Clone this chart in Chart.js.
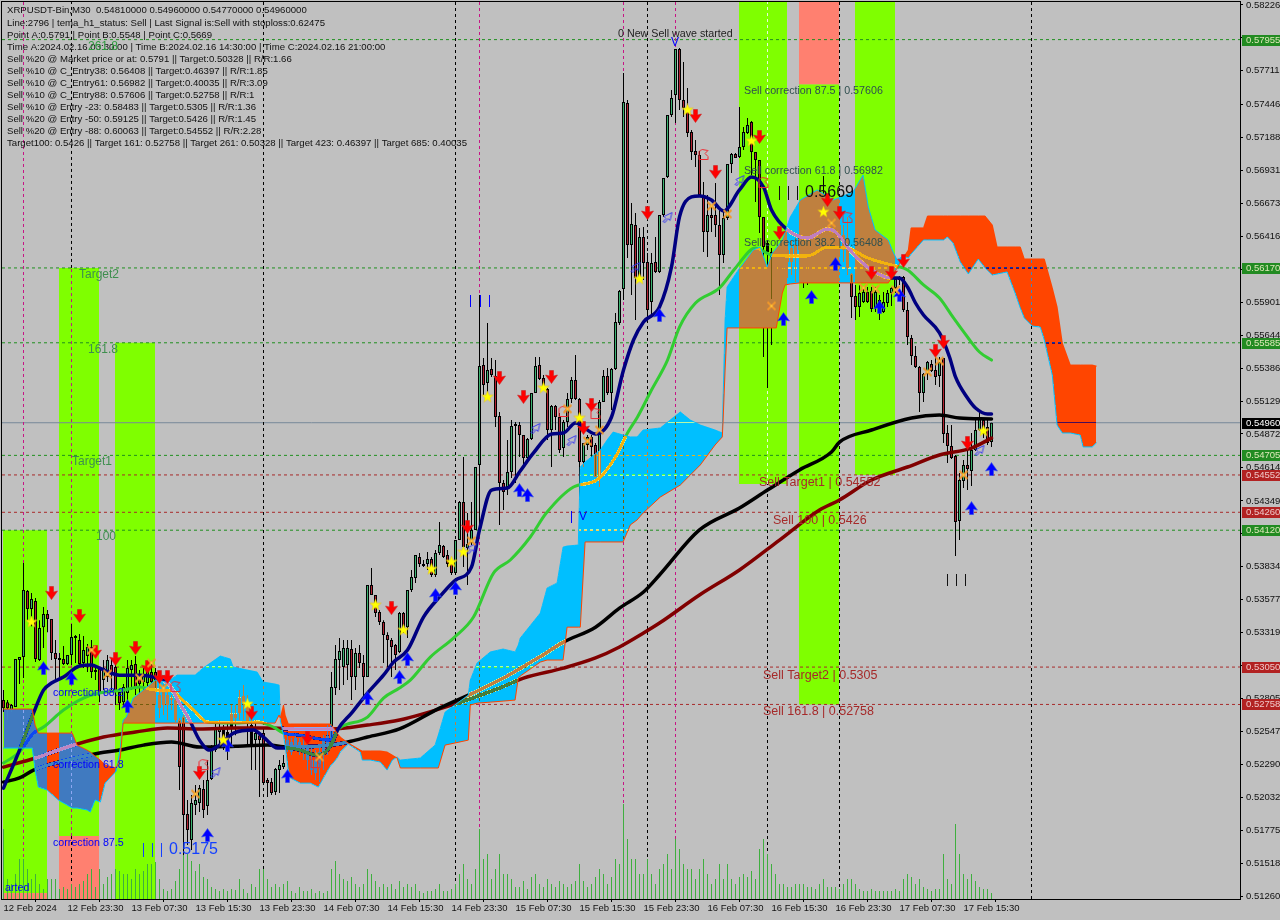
<!DOCTYPE html>
<html><head><meta charset="utf-8"><title>XRPUSDT M30</title>
<script src="https://cdn.jsdelivr.net/npm/chart.js@4"></script>
<style>html,body{margin:0;padding:0;background:#C0C0C0;overflow:hidden}canvas{display:block}</style></head>
<body><canvas id="c" width="1280" height="920"></canvas>
<script>
// All prices are in units of 0.00001 USDT
const opens=[52792,52776,52714,52737,53105,53128,53644,53504,53566,53105,53362,53465,53425,53160,53121,53113,53074,53144,53293,53261,53082,53136,53207,53011,53035,52948,52972,53066,53050,52855,52776,52847,53027,53074,52972,52933,52925,53011,53011,52831,52894,52831,52792,52792,52636,52659,51901,51698,51972,51987,52096,51964,52175,52401,52542,52558,52542,52581,52651,52690,52823,52753,52597,52479,52518,52534,52167,52151,52073,52245,52268,52479,52386,52440,52464,52440,52417,52323,52222,52261,52362,52440,52495,52886,53105,53050,53066,53191,52972,53160,53082,52972,53691,53613,53480,53402,53300,53261,53222,53168,53472,53362,53652,53746,53910,53856,53856,53895,53770,53942,53996,53926,53863,53785,54043,54340,53980,54020,54122,54630,55411,55271,55380,55325,55013,54489,54458,54575,54935,54942,54864,54684,54833,55192,55411,55310,55224,54903,55091,55005,54763,54966,55146,55294,55146,54653,54786,54849,54786,54536,55122,55325,55192,55380,55740,56006,57460,56350,56506,56100,56412,56217,55904,56217,56139,56584,56881,57366,57522,57882,57483,57421,57233,57085,57053,56741,56451,56584,56584,56506,56271,56561,56983,57061,57038,57116,57225,57311,57077,57014,56569,56365,56295,56248,56115,56170,56310,56217,56349,56310,56349,56310,56389,56506,56545,56584,56662,56584,56506,56389,56428,56404,56123,55951,55865,55904,55982,55990,55857,55920,55826,55896,55974,56014,56076,56100,55841,55622,55482,55396,55192,55341,55419,55372,55325,55466,54880,54778,54700,54192,54504,54630,54583,54747,54903,54981,54927,54810];
const closes=[52729,52729,52753,53113,53128,53652,53504,53582,53113,53355,53465,53425,53160,53113,53105,53074,53144,53285,53277,53074,53183,53207,53011,53027,52847,53042,53105,53011,52855,52768,52894,53042,53066,52894,52917,52987,53027,52933,52855,52729,52753,52753,52815,52636,52268,51893,51776,51987,52011,52104,51933,52167,52401,52573,52581,52440,52440,52690,52690,52815,52768,52620,52440,52534,52479,52143,52143,52065,52253,52284,52300,52417,52464,52495,52401,52386,52323,52245,52323,52386,52479,52518,52894,53113,53175,53199,53199,52972,53160,53082,52972,53691,53613,53472,53402,53300,53261,53207,53144,53472,53355,53652,53754,53926,53856,53840,53895,53770,53942,54004,53910,53856,53785,54043,54340,53988,54012,54122,54614,55404,55255,55372,55333,55005,54489,54418,54575,54935,54950,54864,54684,54833,55192,55404,55302,55232,54903,55091,55005,54747,54966,55146,55294,55146,54653,54802,54849,54771,54536,55122,55325,55192,55380,55748,55990,57468,56350,56514,56092,56412,56209,55841,56209,56139,56584,56873,57366,57499,57882,57483,57421,57225,57077,57053,56741,56451,56584,56561,56506,56271,56561,56983,57061,57030,57116,57233,57288,57077,57014,56569,56334,56295,55920,56154,56193,56271,56217,56326,56264,56428,56271,56428,56506,56623,56662,56741,56584,56506,56389,56506,56310,56170,55943,55865,55974,55982,55904,55849,55982,55826,55904,55974,56014,56084,56100,55841,55630,55482,55396,55192,55341,55435,55364,55318,55435,54872,54778,54684,54184,54512,54630,54598,54747,54903,54989,54872,54802,54960];
const highs=[52870,52792,52761,53113,53128,53863,53652,53629,53590,53417,53519,53496,53425,53261,53160,53215,53144,53386,53300,53308,53293,53230,53261,53042,53042,53105,53144,53121,53105,52870,52917,53105,53105,53136,53027,53042,53105,53089,53042,52948,52917,52870,52831,52823,52651,52675,52011,52050,52128,52128,52167,52323,52440,52620,52636,52597,52620,52753,52753,52870,52909,52831,52675,52636,52534,52558,52183,52183,52261,52323,52362,52518,52495,52534,52495,52518,52464,52440,52401,52440,52518,52597,53011,53222,53277,53261,53261,53261,53199,53222,53144,53691,53825,53613,53496,53417,53323,53277,53230,53480,53480,53652,53809,53926,53942,53887,53949,53910,53965,54184,54004,53965,53887,54043,54348,54692,54254,54340,54614,55959,55466,55740,55466,55450,55044,54512,54825,54981,54966,54966,54864,54841,55192,55474,55474,55333,55232,55099,55099,55036,54981,55192,55318,55490,55153,54802,54864,54864,54802,55138,55372,55388,55388,55818,55998,57694,57483,56678,56600,56482,56490,56287,56287,56412,56584,56873,57366,57561,57882,57890,57780,57577,57249,57170,57085,56842,56741,56662,56834,56639,56623,56983,57069,57069,57429,57272,57342,57319,57077,57014,56569,56389,56326,56310,56310,56310,56389,56389,56404,56467,56467,56506,56584,56662,56780,56889,56717,56662,56584,56584,56506,56568,56131,56037,56037,56021,56021,56021,56021,55959,55982,55998,56021,56092,56107,56107,55904,55646,55560,55404,55349,55443,55450,55505,55474,55466,54942,54942,54708,54567,54669,54747,54880,54981,55052,54989,54989,54960];
const lows=[52698,52636,52698,52737,52917,52964,53417,53370,53089,53097,53199,53323,53105,52948,52964,53066,53066,53066,53082,53050,53042,53011,52964,52948,52776,52870,52933,52870,52753,52714,52745,52792,52870,52831,52831,52855,52870,52831,52753,52651,52675,52636,52714,52620,52089,51581,51659,51620,51893,51917,51870,51893,52167,52386,52440,52401,52323,52440,52518,52636,52636,52440,52245,52245,52034,52128,52034,52050,52050,52065,52253,52386,52362,52401,52362,52323,52245,52206,52167,52151,52245,52362,52479,52831,52870,52909,52948,52792,52870,53042,52792,52972,53613,53441,53378,53082,53050,52972,53027,53160,53316,53277,53637,53707,53832,53832,53809,53754,53754,53926,53902,53832,53770,53785,54043,53832,53691,54004,54122,54145,55177,55153,55318,54927,54161,54278,54395,54528,54489,54692,54606,54645,54825,55192,55294,55216,54825,54614,54903,54724,54692,54927,55114,55138,54356,54614,54747,54692,54536,54458,55122,55177,55060,55372,55724,55920,56248,55959,55763,56076,56076,55787,55802,56131,56131,56568,56873,57350,57303,57405,57350,57194,57014,56959,56725,56295,56256,56451,56412,55959,56209,56545,56912,57030,57030,57092,57217,56897,56686,56443,55474,55232,55568,55959,56052,56076,56092,56115,56060,56154,56014,56037,56232,56350,56428,56529,56467,56389,56271,56271,56217,56115,55779,55763,55787,55896,55896,55826,55826,55763,55818,55865,55873,55974,56037,55826,55568,55411,55388,55044,55122,55294,55357,55255,55240,54802,54645,54677,53918,54043,54450,54434,54465,54739,54895,54841,54786,54770];
const volumes=[70,20,15,25,40,40,30,20,25,15,10,20,20,20,10,12,10,15,12,15,18,25,30,12,30,15,22,25,30,28,25,25,20,30,25,28,35,35,37,20,10,8,10,18,30,85,45,38,28,35,22,20,12,10,8,10,8,10,9,20,10,6,15,12,30,30,20,12,15,12,15,18,8,6,12,8,8,10,6,8,6,8,30,38,25,20,18,22,15,12,15,30,25,18,12,15,12,15,10,18,12,15,12,15,8,6,8,8,10,15,8,8,10,15,25,35,20,15,30,70,40,45,20,30,45,25,25,20,12,12,18,10,22,25,15,12,20,15,12,18,15,12,15,18,35,18,12,15,22,30,25,15,22,40,35,95,60,40,40,25,25,40,25,15,30,35,45,30,60,50,35,30,30,20,30,40,25,15,20,35,20,35,20,15,22,25,22,28,20,50,60,45,35,25,15,15,12,12,15,15,15,12,12,10,15,20,12,12,12,10,15,20,20,15,10,8,8,10,8,8,8,8,8,10,8,20,25,22,15,20,12,10,8,10,10,45,20,15,75,45,25,20,25,18,12,10,10,6];
const maskedBodyIdx=[39,40,41,42,43,55,56,57,58,59,60,61,62,71,72,73,74,75,76,77,78,79,80,81,191,193,194,195,196,197,198,199,200,201,202,203,204,205,206,207,208,209,210,211];

const navyIdx=[0,4,7.5,10,12,15,19,22,24,29,34,37.5,41.5,44,46.5,49,51.5,54,57.5,62.5,65,68.5,71,74,78.5,81,82.5,83.5,87,91,95,97.5,101,105,109,113,117,119,122,126,129,132.5,137,140,143,148,152,155,157.5,160,164,167,169,172,174,177,180,184,187,190,192,196,201,206,208,212,217,222,224,226,228,230,234,236.5,238,241,243,246,247];
const navyVals=[52104,52401,52690,52870,52925,52972,53058,53066,53042,52987,52987,52972,52909,52768,52636,52479,52401,52440,52534,52558,52503,52417,52417,52401,52362,52401,52479,52558,52690,52847,52987,53089,53183,53441,53598,53730,53832,54122,54434,54450,54575,54724,54872,54880,54958,54872,55005,55372,55607,55748,55865,56178,56569,56725,56733,56701,56615,56780,56881,56803,56623,56467,56404,56475,56451,56295,56154,56092,56092,56021,55896,55802,55662,55474,55318,55153,55075,55028,55028];
const limeIdx=[0,4,7.5,10,15,20,24,30,34,38,42.5,44,47.5,51,57.5,63.5,67.5,70,74,81.5,84,91,95,99,101.7,106.7,112.5,117.5,122.5,126.7,131.7,135.7,142.5,148.3,153,156,158.5,162,166,169,173,179,183,188,192,197,201,206,211,216,222,226,230,234,237.5,241,244,247];
const limeVals=[52300,52386,52534,52581,52714,52808,52847,52870,52894,52870,52862,52815,52714,52620,52612,52620,52581,52534,52518,52479,52573,52659,52808,52886,52948,53128,53277,53441,53785,53887,54067,54254,54458,54512,54692,54880,55005,55216,55450,55708,55896,56014,56170,56326,56271,56263,56263,56334,56326,56248,56193,56154,56037,55935,55779,55630,55513,55450];
const blackIdx=[0,4,7.5,14,24,29,35,42,49,58,66,71,82,88,91,99,109,119,125,134,140,148,154,160,164,174,184,191,199,207,209,217,227,234,239,247];
const blackVals=[52151,52183,52245,52308,52378,52401,52440,52464,52425,52432,52440,52425,52440,52479,52503,52566,52729,52870,52964,53128,53245,53362,53511,53637,53770,54122,54293,54434,54591,54731,54809,54903,54997,55020,54997,54989];
const maroonIdx=[0,8,16,25,33,41,49,58,66,74,82,91,99,112,124,130,140,148,154,160,164,174,184,194,204,209,217,226,234,242,247];
const maroonVals=[52268,52339,52425,52503,52542,52573,52566,52573,52573,52566,52566,52597,52636,52753,52886,52964,53042,53121,53207,53316,53394,53613,53809,54043,54278,54356,54512,54614,54708,54762,54840];

const cloudIdx=[0,4.2,7.2,7.9,8.7,10.9,13.7,17.2,18.4,20.9,21.7,22.9,24.2,25.4,28.2,29.2,29.9,30.7,32.4,34.9,37.9,40.9,43.4,47.9,49.9,54.2,56.7,57.4,63.4,64.9,67.9,68.9,69.2,70,70.4,71.2,71.7,74.2,76.7,78.7,80.4,81.7,82.4,83.4,84.2,86.2,89.2,89.7,91.7,94.2,95.9,97.2,98.4,99.2,104.2,107.9,108.7,110.4,116.2,116.7,118.4,121.7,124.9,127.9,128.7,129.2,134.2,135.9,138.4,139.9,140.9,143.7,144.2,145.4,149.2,150.9,152.4,154.9,156.7,158.4,159.9,164.2,169.2,171.7,174.2,177.9,179.7,179.9,180.4,180.9,183.7,187.4,189.2,190.9,192.2,193.2,194.7,195.4,196.7,199.2,203.4,207.4,212.4,214.9,216.2,217.9,221.2,222.4,223.4,224.9,226.2,226.9,230,231,235,236,237.4,239.2,241.2,243.7,245.4,247.2,248.4,250.9,252.9,254.2,255.2,257.2,259.2,260.2,262.2,263.4,264.7,266.7,269.2,269.9,272.2,273.2];
const cloudRed=[52722,52722,52722,52597,52534,52534,52534,52534,52440,52401,52386,52354,52323,52284,52261,52339,52612,52612,52612,52612,52612,52612,52612,52612,52612,52612,52612,52612,52612,52612,52612,52675,52651,52753,52675,52605,52605,52605,52605,52605,52605,52605,52581,52534,52503,52456,52401,52394,52394,52394,52386,52362,52339,52261,52261,52261,52261,52440,52479,52753,52768,52776,52784,52792,52964,52980,53089,53105,53105,53105,53362,53362,53362,54028,54028,54028,54028,54028,54161,54200,54254,54379,54473,54551,54630,54786,54849,54981,55372,55701,55701,55701,55701,55701,55701,55701,55974,56037,56045,56053,56053,56053,56053,56053,56053,56053,56053,56115,56170,56248,56310,56483,56483,56576,56576,56576,56576,56576,56576,56576,56576,56506,56334,56334,56334,56334,56240,56240,56240,56240,56014,55865,55583,55411,55411,55411,55411,55403];
const cloudSky=[52417,52417,52417,52245,52112,52089,52011,51948,51948,51933,51917,52011,51995,52143,52237,52417,52636,52659,52808,52870,52948,52933,52987,52987,53042,53136,53113,53050,53011,52933,52917,52909,52636,52518,52440,52245,52183,52143,52143,52112,52206,52276,52300,52339,52386,52448,52386,52323,52323,52308,52245,52323,52347,52323,52339,52440,52518,52698,52831,52948,53082,53168,53191,53168,53222,53277,53472,53668,53707,53988,53996,54004,54614,54653,54747,54825,54887,54864,54849,54849,54903,54919,55044,54981,54942,54903,54880,55138,55763,56021,56154,56310,56334,56178,56287,56326,56389,56451,56568,56701,56780,56701,56764,56897,56647,56467,56389,56295,56232,56264,56248,56279,56389,56389,56389,56412,56365,56217,56123,56240,56170,56115,56123,56139,55974,55857,55779,55716,55708,55607,55333,54942,54880,54880,54864,54771,54771,54802];

const priceTicks=[58226,57968,57711,57446,57188,56931,56673,56416,56159,55901,55644,55386,55129,54872,54614,54349,54092,53834,53577,53319,53062,52805,52547,52290,52032,51775,51518,51260];
const timeTickIdx=[0,16,32,48,64,80,96,112,128,144,160,176,192,208,224,240];
const timeLabels=['12 Feb 2024','12 Feb 23:30','13 Feb 07:30','13 Feb 15:30','13 Feb 23:30','14 Feb 07:30','14 Feb 15:30','14 Feb 23:30','15 Feb 07:30','15 Feb 15:30','15 Feb 23:30','16 Feb 07:30','16 Feb 15:30','16 Feb 23:30','17 Feb 07:30','17 Feb 15:30'];
const greenLevels=[57955,56170,55585,54705,54120];
const redLevels=[54552,54260,53050,52758];
const lastPrice=54960;
const priceMin=51237, priceMax=58249;

const greenBandStart=[-0.125,13.875,27.875,183.875,198.875,212.875];
const greenBandEnd=[10.875,23.875,37.875,195.875,208.875,222.875];
const greenBandLow=[51284,51729,51237,54481,52758,54552];
const greenBandHigh=[54120,56170,55585,58249,57606,58249];
const salmonBandStart=[-0.125,13.875,198.875];
const salmonBandEnd=[10.875,23.875,208.875];
const salmonBandLow=[51237,51237,57606];
const salmonBandHigh=[51284,51729,58249];

const blackVerts=[65,113,161,209,257];
const magentaVerts=[5,119,155,168];

const sellIdx=[12,19,23,28,33,36,39,41,49,62,76,97,116,124,130,137,147,145,161,173,178,189,194,206,209,217,222,225,233,235,241];
const sellVals=[53629,53449,53168,53113,53199,53050,52972,52972,52222,52690,52495,53511,54145,55310,55161,55318,55099,54919,56600,57358,56920,57194,56443,56701,56600,56131,56131,56225,55521,55591,54802];
const buyIdx=[10,17,31,51,56,71,91,99,101,108,113,129,131,164,195,202,208,219,224,242,247];
const buyVals=[53042,52964,52745,51737,52440,52198,52808,52972,53113,53613,53668,54434,54395,55802,55771,55943,56201,55865,55959,54293,54598];
const starIdx=[7,55,61,93,100,107,112,115,121,135,144,159,171,187,205,245];
const starVals=[53402,52479,52761,53535,53339,53816,53871,53949,55161,55232,54997,56084,57405,57162,56607,54895];
const crossIdx=[22,26,34,37,40,48,79,117,141,146,149,177,181,192,207,215,218,223,231,234,240];
const crossVals=[53183,52995,52964,53082,52886,52058,52347,54036,55068,54817,54903,56654,56592,55873,56521,56014,56006,55998,55357,55443,54552];
const hollowBlueIdx=[53,117,133,142,158,166,184,244];
const hollowBlueVals=[52230,53980,54919,54825,56178,56568,56858,54747];
const hollowRedIdx=[43,50,78,140,148,175,190,211];
const hollowRedVals=[52894,52284,52300,55044,55028,57053,56834,56561];

const headerLines=['XRPUSDT-Bin,M30  0.54810000 0.54960000 0.54770000 0.54960000','Line:2796 | tema_h1_status: Sell | Last Signal is:Sell with stoploss:0.62475','Point A:0.5791 | Point B:0.5548 | Point C:0.5669','Time A:2024.02.16 03:30:00 | Time B:2024.02.16 14:30:00 | Time C:2024.02.16 21:00:00','Sell %20 @ Market price or at: 0.5791 || Target:0.50328 || R/R:1.66','Sell %10 @ C_Entry38: 0.56408 || Target:0.46397 || R/R:1.85','Sell %10 @ C_Entry61: 0.56982 || Target:0.40035 || R/R:3.09','Sell %10 @ C_Entry88: 0.57606 || Target:0.52758 || R/R:1','Sell %10 @ Entry -23: 0.58483 || Target:0.5305 || R/R:1.36','Sell %20 @ Entry -50: 0.59125 || Target:0.5426 || R/R:1.45','Sell %20 @ Entry -88: 0.60063 || Target:0.54552 || R/R:2.28','Target100: 0.5426 || Target 161: 0.52758 || Target 261: 0.50328 || Target 423: 0.46397 || Target 685: 0.40035'];

const UI='"Liberation Sans",Arial,sans-serif';
const annotations=[
 ['261.8',88,47,'#2E9B3E','12px '+UI],['Target2',79,275,'#3E8E4E','12px '+UI],['161.8',88,350,'#3E8E4E','12px '+UI],['Target1',72,462,'#3E8E4E','12px '+UI],['100',96,537,'#3E8E4E','12px '+UI],
 ['0 New Sell wave started',618,34,'#222222','10.7px '+UI],
 ['Sell correction 87.5 | 0.57606',744,91,'#2F4F4F','10.7px '+UI],['Sell correction 61.8 | 0.56982',744,171,'#2F4F4F','10.7px '+UI],['Sell correction 38.2 | 0.56408',744,243,'#2F4F4F','10.7px '+UI],
 ['0.5669',805,193,'#111111','16px '+UI],
 ['Sell Target1 | 0.54552',759,483,'#A52A2A','12.5px '+UI],['Sell 100 | 0.5426',773,521,'#A52A2A','12.5px '+UI],['Sell Target2 | 0.5305',763,676,'#A52A2A','12.5px '+UI],['Sell 161.8 | 0.52758',763,712,'#A52A2A','12.5px '+UI],
 ['correction 88.2',53,693,'#0000FF','10.7px '+UI],['correction 61.8',53,765,'#0000FF','10.7px '+UI],['correction 87.5',53,843,'#0000FF','10.7px '+UI],['arted',5,888,'#0000FF','10.7px '+UI],
 ['0.5175',169,850,'#1440FF','16px '+UI],
 ['V',671,43,'#0000FF','12px '+UI],['V',579,517,'#0000FF','12px '+UI]
];
const tallBars=[[779,193,'#111',14],[788,193,'#111',14],[797,193,'#111',14],[143,850,'#1440FF',14],[152,850,'#1440FF',14],[161,850,'#1440FF',14],[470,301,'#0000FF',12],[480,301,'#0000FF',12],[489,301,'#0000FF',12],[571,517,'#0000FF',12],[947,580,'#111',12],[956,580,'#111',12],[965,580,'#111',12]];

// ---------- glyphs for the point markers ----------
function glyph(w,h,fn){const c=document.createElement('canvas');c.width=w;c.height=h;fn(c.getContext('2d'));return c;}
function arrowPath(g,flip){const H=14;const pts=[[4.5,0.5],[8.5,0.5],[8.5,6],[12.5,5],[6.5,13.5],[0.5,5],[4.5,6]];g.beginPath();pts.forEach((p,i)=>{const y=flip?H-p[1]:p[1];i?g.lineTo(p[0],y):g.moveTo(p[0],y);});g.closePath();}
const sellGlyph=glyph(13,14,g=>{arrowPath(g,false);g.fillStyle='#FF0000';g.fill();g.strokeStyle='rgba(200,30,30,.55)';g.stroke();});
const buyGlyph=glyph(13,14,g=>{arrowPath(g,true);g.fillStyle='#0000FF';g.fill();g.strokeStyle='rgba(50,80,230,.55)';g.stroke();});
const starGlyph=glyph(13,13,g=>{g.beginPath();for(let k=0;k<10;k++){const r=k%2?2.6:6.2,a=-Math.PI/2+k*Math.PI/5,x=6.5+r*Math.cos(a),y=6.5+r*Math.sin(a);k?g.lineTo(x,y):g.moveTo(x,y);}g.closePath();g.fillStyle='#FFFF00';g.fill();g.strokeStyle='rgba(225,170,30,.6)';g.lineWidth=.6;g.stroke();});
const crossGlyph=glyph(11,11,g=>{g.strokeStyle='#F0982A';g.lineWidth=2;g.beginPath();g.moveTo(1.5,1.5);g.lineTo(9.5,9.5);g.moveTo(9.5,1.5);g.lineTo(1.5,9.5);g.stroke();g.fillStyle='#FFD040';g.fillRect(4.5,4.5,2,2);});
function hollow(color,up){return glyph(14,14,g=>{g.strokeStyle=color;g.lineWidth=1;g.beginPath();
 const p=up?[[2.5,11.5],[5.5,8.5],[3.5,6.5],[11.5,2.5],[9.5,10.5],[7.5,8.5],[4.5,11.5+1]]:[[11.5,2.5],[8.5,5.5],[11.5,8.5],[11.5,11.5],[2.5,11.5],[2.5,3.5],[5.5,1.5]];
 p.forEach((q,i)=>i?g.lineTo(q[0],q[1]):g.moveTo(q[0],q[1]));g.closePath();g.stroke();});}
const hollowBlue=hollow('#3A3AF0',true), hollowRed=hollow('#F02830',false);

// ---------- datasets (drawn in the order they are pushed) ----------
const seq=[];
const zip=(xs,ys)=>xs.map((x,i)=>({x,y:ys[i]}));
const line=(label,xs,ys,color,width,extra)=>seq.push(Object.assign({type:'line',label,data:zip(xs,ys),borderColor:color,borderWidth:width,pointRadius:0,fill:false,borderJoinStyle:'round',borderCapStyle:'round'},extra||{}));
const band=(label,s,e,lo,hi,color)=>s.forEach((x,i)=>seq.push({type:'line',label:label+i,data:[{x:s[i],y:hi[i]},{x:e[i],y:hi[i]}],borderWidth:0,pointRadius:0,backgroundColor:color,fill:{value:lo[i]}}));
const mark=(label,xs,ys,style)=>seq.push({type:'line',label,data:zip(xs,ys),showLine:false,pointStyle:style,pointRadius:6,pointBorderWidth:0});
const xMin=-0.375,xMax=309.125;
const dash={borderDash:[3,3],borderCapStyle:'butt'};

band('green',greenBandStart,greenBandEnd,greenBandLow,greenBandHigh,'#7FFF00');
band('salmon',salmonBandStart,salmonBandEnd,salmonBandLow,salmonBandHigh,'#FF8070');
greenLevels.forEach(v=>line('g'+v,[xMin,xMax],[v,v],'#1F8F1F',1,dash));
redLevels.forEach(v=>line('r'+v,[xMin,xMax],[v,v],'#A82A2A',1,dash));
line('last',[xMin,xMax],[lastPrice,lastPrice],'#778899',1);
blackVerts.forEach(i=>line('vb'+i,[i,i],[priceMin,priceMax],'#000',1,dash));
line('vb17a',[17,17],[56170,priceMax],'#000',1,dash);
line('vb17b',[17,17],[priceMin,51729],'#000',1,dash);
line('vm17',[17,17],[51729,56170],'#C71585',1,dash);
line('v191a',[191,191],[54481,priceMax],'#E8F8E0',1,dash);
line('v191b',[191,191],[priceMin,54481],'#000',1,dash);
magentaVerts.forEach(i=>line('vm'+i,[i,i],[priceMin,priceMax],'#C71585',1,dash));

const idx=opens.map((_,i)=>i);
const bar=(label,data,thick,bg,border,bw)=>seq.push({type:'bar',label,yAxisID:label==='volume'?'yVol':'y',data,barThickness:thick,backgroundColor:bg,borderColor:border,borderWidth:bw,inflateAmount:0,grouped:false,borderSkipped:false});
bar('volume',idx.map(i=>({x:i,y:volumes[i]})),1,'#3FAF3F','#3FAF3F',0);
bar('wick',idx.map(i=>({x:i,y:[lows[i],highs[i]]})),1,'#000','#000',0);
bar('body',idx.map(i=>({x:i,y:[opens[i],closes[i]]})),3,idx.map(i=>maskedBodyIdx.includes(i)?'#000':(closes[i]>=opens[i]?'#3CB371':'#B22232')),'#000',1);

const smooth={cubicInterpolationMode:'monotone'};
line('maMaroon',maroonIdx,maroonVals,'#800000',3.5,smooth);
line('maBlack',blackIdx,blackVals,'#000000',3.5,smooth);
line('maLime',limeIdx,limeVals,'#32CD32',3,smooth);
line('maNavy',navyIdx,navyVals,'#000080',3.5,smooth);
line('cloudFill',cloudIdx,cloudRed,'rgba(0,0,0,0)',0);
line('cloudSky',cloudIdx,cloudSky,'#00BFFF',1);
line('cloudRed',cloudIdx,cloudRed,'#FF4500',1);
const fillIdx=seq.findIndex(d=>d.label==='cloudFill');
seq[fillIdx].fill={target:fillIdx+1,above:'#FF4500',below:'#00BFFF'};

mark('sell',sellIdx,sellVals,sellGlyph);
mark('buy',buyIdx,buyVals,buyGlyph);
mark('hollowBlue',hollowBlueIdx,hollowBlueVals,hollowBlue);
mark('hollowRed',hollowRedIdx,hollowRedVals,hollowRed);
mark('cross',crossIdx,crossVals,crossGlyph);
mark('star',starIdx,starVals,starGlyph);
seq.forEach((d,i)=>{d.order=seq.length-i;});

// ---------- plugins ----------
let snapshot=null;
const palette=[[192,192,192],[127,255,0],[0,0,0],[0,0,128],[50,205,50],[128,0,0],[60,179,113],[178,34,50],[119,136,153],[255,128,112]];
const xorCloud={id:'xorCloud',
 afterDatasetDraw(chart,args){
  const label=chart.data.datasets[args.index].label,ctx=chart.ctx,W=chart.canvas.width,H=chart.canvas.height;
  if(label==='maNavy'){snapshot=ctx.getImageData(0,0,W,H);}
  if(label==='cloudFill'&&snapshot){
   const img=ctx.getImageData(0,0,W,H),C=img.data,S=snapshot.data;
   const T=[[0,191,255,0xC0,0x7F,0x3F],[255,69,0,0x3F,0x85,0xC0]];
   for(let p=0;p<C.length;p+=4){
    if(C[p]===S[p]&&C[p+1]===S[p+1]&&C[p+2]===S[p+2])continue;
    const d=t=>(C[p]-t[0])**2+(C[p+1]-t[1])**2+(C[p+2]-t[2])**2;
    const t=d(T[0])<d(T[1])?T[0]:T[1];
    const vx=t[0]-S[p],vy=t[1]-S[p+1],vz=t[2]-S[p+2];
    const a=((C[p]-S[p])*vx+(C[p+1]-S[p+1])*vy+(C[p+2]-S[p+2])*vz)/(vx*vx+vy*vy+vz*vz||1);
    if(a>0.5){
     let best=palette[0],bd=1e9;
     for(const q of palette){const e=(S[p]-q[0])**2+(S[p+1]-q[1])**2+(S[p+2]-q[2])**2;if(e<bd){bd=e;best=q;}}
     C[p]=best[0]^t[3];C[p+1]=best[1]^t[4];C[p+2]=best[2]^t[5];
    }
    else{C[p]=S[p];C[p+1]=S[p+1];C[p+2]=S[p+2];}
   }
   ctx.putImageData(img,0,0);
  }
 }};
const bgPlugin={id:'bg',beforeDraw(chart){const c=chart.ctx;c.save();c.fillStyle='#C0C0C0';c.fillRect(0,0,chart.canvas.width,chart.canvas.height);c.restore();}};
const textPlugin={id:'texts',afterDatasetsDraw(chart){
 const c=chart.ctx;c.save();c.textBaseline='middle';c.textAlign='left';
 headerLines.forEach((t,i)=>{c.font='9.6px '+UI;c.fillStyle='#101010';c.fillText(t,7,(i===0?10.5:11.7)+12*i);});
 annotations.forEach(a=>{c.font=a[4];c.fillStyle=a[3];c.fillText(a[0],a[1],a[2]);});
 c.lineWidth=1;tallBars.forEach(b=>{c.strokeStyle=b[2];c.beginPath();c.moveTo(b[0]+.5,b[1]-b[3]/2);c.lineTo(b[0]+.5,b[1]+b[3]/2);c.stroke();});
 c.restore();
}};
const framePlugin={id:'frame',afterDraw(chart){
 const c=chart.ctx,a=chart.chartArea,y=chart.scales.y;c.save();
 c.strokeStyle='#000';c.lineWidth=1;c.strokeRect(a.left-.5,a.top-.5,a.right-a.left+1,a.bottom-a.top+1);
 c.font='9.5px '+UI;c.textBaseline='middle';c.textAlign='left';
 const tag=(v,bg,fg)=>{const py=Math.round(y.getPixelForValue(v));c.fillStyle=bg;c.fillRect(1242,py-5,38,11);c.fillStyle=fg;c.fillText((v/1e5).toFixed(5),1246,py+.5);};
 greenLevels.forEach(v=>tag(v,'#228B22','#DDE8B8'));
 redLevels.forEach(v=>tag(v,'#B22222','#F0C8C8'));
 tag(lastPrice,'#000000','#FFFFFF');
 c.restore();
}};
const noPad=s=>{s.paddingLeft=0;s.paddingRight=0;s.paddingTop=0;s.paddingBottom=0;};

new Chart(document.getElementById('c'),{
 data:{datasets:seq},
 plugins:[bgPlugin,xorCloud,textPlugin,framePlugin],
 options:{responsive:false,animation:false,devicePixelRatio:1,
  layout:{autoPadding:false,padding:{left:2,top:2,right:0,bottom:0}},
  plugins:{legend:{display:false},tooltip:{enabled:false},title:{display:false}},
  scales:{
   x:{type:'linear',min:xMin,max:xMax,offset:false,position:'bottom',
    afterFit(s){s.height=21;noPad(s);},
    afterBuildTicks(s){s.ticks=timeTickIdx.map(v=>({value:v}));},
    grid:{drawOnChartArea:false,tickLength:3,color:'#000'},border:{color:'#000',width:1},
    ticks:{autoSkip:false,maxRotation:0,minRotation:0,align:'start',padding:1,color:'#111',font:{family:'Liberation Sans',size:9.5},
     callback:v=>timeLabels[timeTickIdx.indexOf(v)]}},
   y:{type:'linear',position:'right',min:priceMin,max:priceMax,
    afterFit(s){s.width=40;noPad(s);},
    afterBuildTicks(s){s.ticks=priceTicks.map(v=>({value:v}));},
    grid:{drawOnChartArea:false,tickLength:3,color:'#000'},border:{color:'#000',width:1},
    ticks:{autoSkip:false,padding:3,color:'#111',font:{family:'Liberation Sans',size:9.5},align:'center',crossAlign:'near',
     callback:v=>(v/1e5).toFixed(5)}},
   yVol:{type:'linear',display:false,min:0,max:897,afterFit(s){noPad(s);}}
  }
 }
});
</script></body></html>
